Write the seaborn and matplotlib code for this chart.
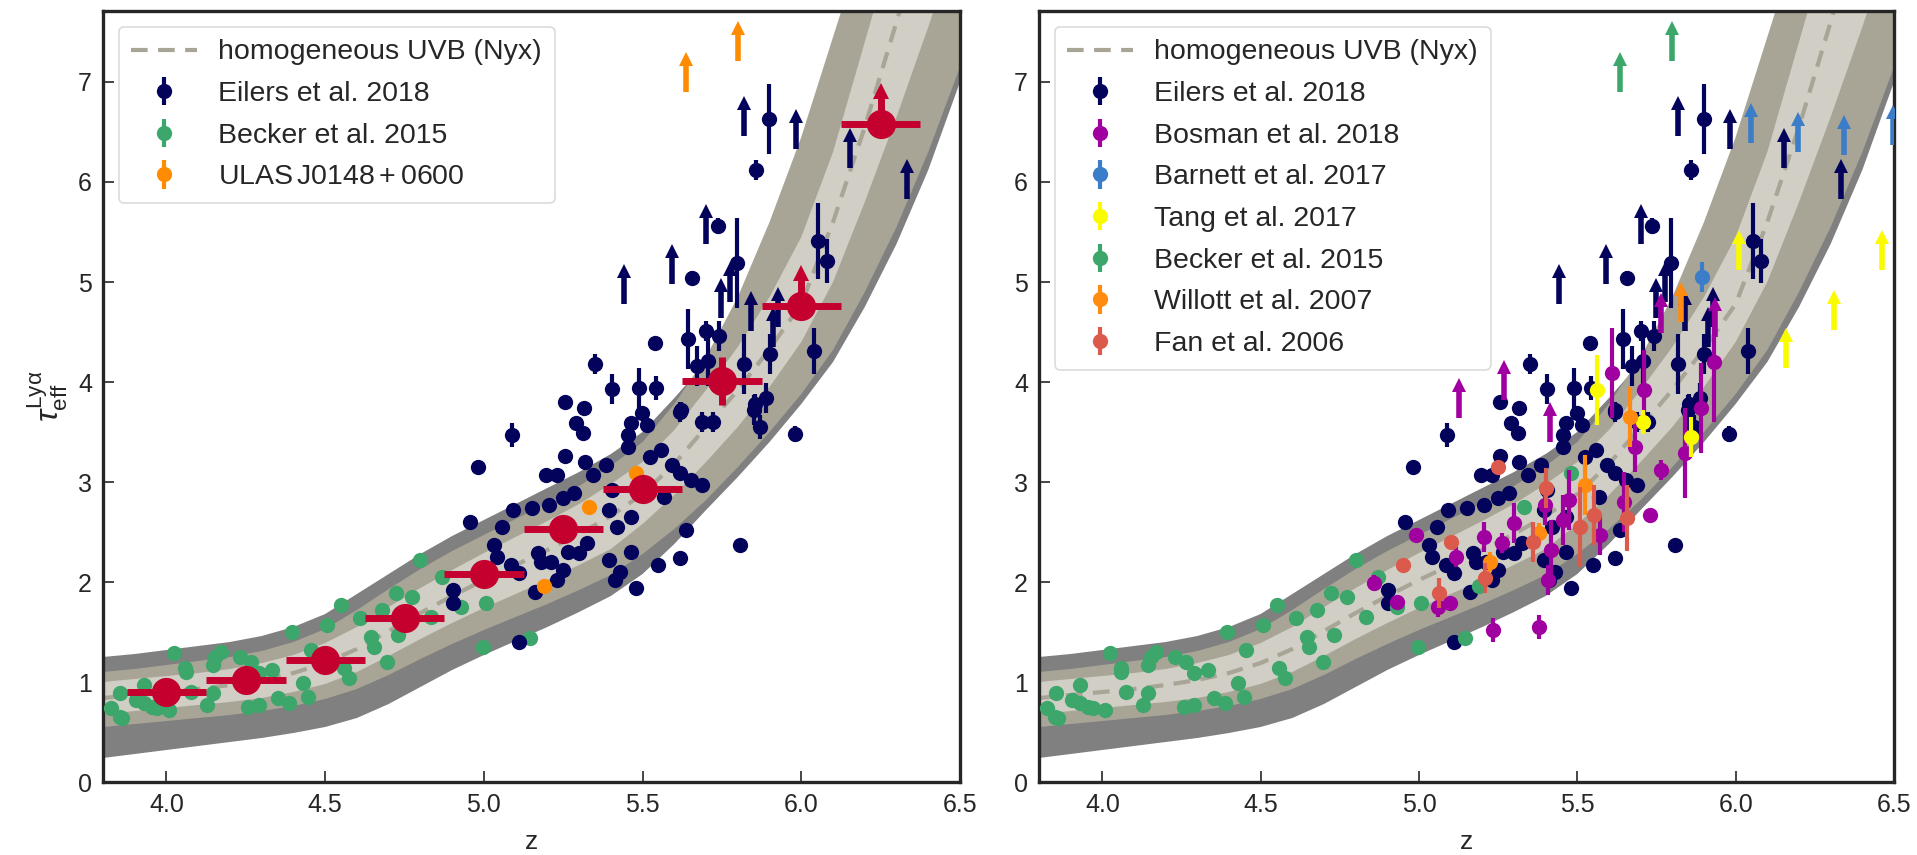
import numpy as np
import matplotlib
matplotlib.use("Agg")
import matplotlib.pyplot as plt
import seaborn as sns

# ---------------------------------------------------------------- model band
z_model = [3.8, 3.9, 4.0, 4.1, 4.2, 4.3, 4.4, 4.5, 4.6, 4.7, 4.8, 4.9, 5.0, 5.1,
           5.2, 5.3, 5.4, 5.5, 5.6, 5.7, 5.8, 5.9, 6.0, 6.1, 6.2, 6.3, 6.4, 6.5]
tau_model = [0.84, 0.87, 0.90, 0.93, 0.97, 1.02, 1.09, 1.19, 1.33, 1.51, 1.69, 1.86, 2.02, 2.17,
             2.32, 2.48, 2.66, 2.88, 3.18, 3.55, 3.92, 4.33, 4.78, 5.60, 6.55, 7.60, 8.70, 9.80]
light_lo = [0.68, 0.71, 0.74, 0.77, 0.80, 0.84, 0.90, 0.98, 1.10, 1.26, 1.43, 1.59, 1.74, 1.88,
            2.02, 2.17, 2.33, 2.58, 2.87, 3.20, 3.55, 3.95, 4.40, 5.00, 5.80, 6.65, 7.55, 8.50]
light_hi = [1.00, 1.03, 1.06, 1.09, 1.13, 1.19, 1.27, 1.39, 1.55, 1.75, 1.94, 2.12, 2.29, 2.45,
            2.61, 2.78, 2.98, 3.20, 3.52, 3.92, 4.35, 4.85, 5.45, 6.30, 7.40, 8.50, 9.50, 10.5]
mid_lo = [0.55, 0.58, 0.61, 0.64, 0.67, 0.71, 0.76, 0.83, 0.93, 1.07, 1.23, 1.38, 1.52, 1.65,
          1.78, 1.92, 2.07, 2.28, 2.53, 2.82, 3.15, 3.50, 3.88, 4.32, 4.90, 5.55, 6.30, 7.15]
mid_hi = [1.10, 1.13, 1.17, 1.21, 1.25, 1.31, 1.40, 1.53, 1.72, 1.93, 2.13, 2.31, 2.47, 2.63,
          2.79, 2.96, 3.16, 3.40, 3.78, 4.25, 4.85, 5.60, 6.45, 7.45, 8.45, 9.40, 10.3, 11.2]
dark_lo = [0.24, 0.28, 0.32, 0.36, 0.40, 0.44, 0.49, 0.55, 0.64, 0.78, 0.95, 1.12, 1.27, 1.41,
           1.55, 1.70, 1.86, 2.08, 2.38, 2.72, 3.05, 3.40, 3.78, 4.20, 4.75, 5.38, 6.12, 7.00]
dark_hi = [1.25, 1.28, 1.32, 1.36, 1.40, 1.46, 1.55, 1.68, 1.88, 2.08, 2.28, 2.46, 2.62, 2.78,
           2.94, 3.10, 3.28, 3.50, 3.84, 4.20, 4.75, 5.35, 6.00, 6.70, 7.50, 8.50, 9.40, 10.3]

# ---------------------------------------------------------------- Eilers et al. 2018
eilers_z = [5.899, 5.858, 5.736, 5.656, 5.797, 6.054, 6.080, 5.643, 5.700, 5.741, 5.540, 5.351,
            5.403, 5.490, 5.543, 5.818, 5.900, 6.040, 5.672, 5.707, 5.888, 5.853, 5.257, 5.316,
            5.620, 5.089, 5.290, 5.313, 5.464, 5.515, 5.498, 5.619, 5.688, 5.722, 5.851, 5.869,
            5.980, 4.981, 5.257, 5.196, 5.231, 5.317, 5.386, 5.343, 5.455, 5.455, 5.524, 5.558,
            5.593, 5.619, 5.653, 5.688, 5.403, 5.567, 5.283, 5.248, 5.205, 5.093, 5.153, 5.395,
            5.464, 5.420, 4.955, 5.058, 5.326, 5.300, 5.265, 5.033, 5.040, 5.170, 5.179, 5.213,
            5.084, 5.110, 5.248, 5.230, 5.162, 5.395, 5.429, 5.412, 5.464, 5.636, 5.550, 5.619,
            5.808, 5.480, 4.903, 4.903, 5.110]
eilers_tau = [6.63, 6.12, 5.56, 5.04, 5.19, 5.41, 5.21, 4.43, 4.51, 4.46, 4.39, 4.18,
              3.93, 3.94, 3.94, 4.18, 4.28, 4.31, 4.16, 4.21, 3.84, 3.78, 3.80, 3.74,
              3.72, 3.47, 3.59, 3.49, 3.59, 3.57, 3.69, 3.70, 3.60, 3.60, 3.72, 3.55,
              3.48, 3.15, 3.26, 3.07, 3.07, 3.20, 3.17, 3.07, 3.35, 3.47, 3.25, 3.32,
              3.17, 3.09, 3.02, 2.97, 2.92, 2.85, 2.89, 2.84, 2.77, 2.72, 2.74, 2.72,
              2.65, 2.55, 2.60, 2.55, 2.39, 2.29, 2.30, 2.37, 2.25, 2.29, 2.20, 2.20,
              2.17, 2.09, 2.12, 2.02, 1.90, 2.22, 2.10, 2.02, 2.30, 2.52, 2.17, 2.24,
              2.37, 1.94, 1.92, 1.79, 1.40]
eilers_err = [0.35, 0.10, 0.08, 0.07, 0.45, 0.38, 0.22, 0.30, 0.10, 0.15, 0.05, 0.10,
              0.15, 0.20, 0.12, 0.30, 0.20, 0.23, 0.20, 0.25, 0.15, 0.10, 0.05, 0.05,
              0.08, 0.12, 0.05, 0.05, 0.05, 0.05, 0.05, 0.10, 0.10, 0.10, 0.15, 0.12,
              0.08, 0.03, 0.03, 0.03, 0.03, 0.03, 0.03, 0.03, 0.04, 0.04, 0.04, 0.04,
              0.04, 0.04, 0.04, 0.04, 0.03, 0.03, 0.03, 0.03, 0.03, 0.03, 0.03, 0.03,
              0.03, 0.03, 0.03, 0.03, 0.03, 0.03, 0.03, 0.03, 0.03, 0.03, 0.03, 0.03,
              0.03, 0.03, 0.03, 0.03, 0.03, 0.03, 0.03, 0.03, 0.03, 0.03, 0.03, 0.03,
              0.03, 0.03, 0.03, 0.03, 0.03]
eilers_lim_z = [5.818, 5.983, 6.154, 6.333, 5.701, 5.592, 5.441, 5.840, 5.747, 5.776, 5.928, 5.912]
eilers_lim_tau = [6.46, 6.33, 6.14, 5.83, 5.38, 4.98, 4.78, 4.51, 4.64, 4.80, 4.55, 4.35]

# ---------------------------------------------------------------- Becker et al. 2015
becker_z = [3.852, 3.826, 3.855, 3.860, 3.929, 3.955, 4.007, 4.024, 4.059, 4.076, 4.128, 4.145,
            4.153, 4.171, 4.145, 4.231, 4.265, 4.291, 4.257, 4.291, 4.334, 4.352, 4.386, 4.395,
            4.429, 4.446, 4.455, 4.507, 4.550, 4.559, 4.576, 4.610, 4.653, 4.696, 4.645, 4.722,
            4.774, 4.730, 4.679, 4.800, 4.869, 4.834, 4.929, 5.007, 4.998, 5.145, 3.903, 3.930,
            3.970, 4.060]
becker_tau = [0.65, 0.74, 0.89, 0.64, 0.97, 0.75, 0.72, 1.29, 1.14, 0.90, 0.77, 0.89,
              1.25, 1.30, 1.17, 1.25, 1.20, 1.09, 0.75, 0.77, 1.12, 0.84, 0.79, 1.50,
              0.99, 0.85, 1.32, 1.57, 1.77, 1.14, 1.04, 1.64, 1.35, 1.20, 1.45, 1.89,
              1.85, 1.47, 1.72, 2.22, 2.05, 1.65, 1.75, 1.79, 1.35, 1.44, 0.82, 0.79,
              0.74, 1.10]
becker_err = [0.03] * len(becker_z)

# ULAS J0148+0600 (part of the Becker et al. 2015 sample)
ulas_z = [5.188, 5.331, 5.480]
ulas_tau = [1.96, 2.75, 3.09]
ulas_err = [0.03, 0.03, 0.03]
ulas_lim_z = [5.636, 5.800]
ulas_lim_tau = [6.90, 7.21]

# ---------------------------------------------------------------- binned Eilers et al. 2018
bin_z = [4.0, 4.25, 4.5, 4.75, 5.0, 5.25, 5.5, 5.75]
bin_tau = [0.90, 1.02, 1.22, 1.64, 2.08, 2.53, 2.93, 4.01]
bin_err = [0.03, 0.04, 0.04, 0.05, 0.06, 0.08, 0.10, 0.24]
bin_lim_z = [6.0, 6.25]
bin_lim_tau = [4.76, 6.58]
bin_halfwidth = 0.125

# ---------------------------------------------------------------- other samples
bosman_z = [5.610, 5.710, 5.890, 5.932, 5.683, 5.764, 5.840, 5.729, 5.648, 5.571, 5.474, 5.416,
            5.455, 5.407, 5.378, 5.233, 4.992, 4.857, 4.930, 5.098, 5.117, 5.204, 5.262, 5.300,
            5.397, 5.060]
bosman_tau = [4.09, 3.92, 3.74, 4.20, 3.35, 3.12, 3.29, 2.67, 2.80, 2.47, 2.82, 2.32,
              2.62, 2.02, 1.55, 1.52, 2.47, 1.99, 1.80, 1.79, 2.25, 2.45, 2.39, 2.59,
              2.77, 1.75]
bosman_err = [0.45, 0.40, 0.45, 0.60, 0.25, 0.10, 0.45, 0.05, 0.30, 0.20, 0.30, 0.30,
              0.25, 0.15, 0.12, 0.12, 0.05, 0.08, 0.05, 0.05, 0.10, 0.15, 0.10, 0.20,
              0.20, 0.10]
bosman_lim_z = [5.127, 5.268, 5.413, 5.764, 5.934]
bosman_lim_tau = [3.64, 3.82, 3.40, 4.49, 4.45]

barnett_z = [5.895]
barnett_tau = [5.05]
barnett_err = [0.15]
barnett_lim_z = [6.047, 6.198, 6.343, 6.497]
barnett_lim_tau = [6.39, 6.30, 6.27, 6.37]

tang_z = [5.561, 5.706, 5.860]
tang_tau = [3.92, 3.60, 3.45]
tang_err = [0.35, 0.12, 0.20]
tang_lim_z = [6.011, 6.462, 6.310, 6.159]
tang_lim_tau = [5.12, 5.12, 4.52, 4.14]

willott_z = [5.523, 5.378, 5.224, 5.667]
willott_tau = [2.97, 2.49, 2.20, 3.65]
willott_err = [0.30, 0.10, 0.10, 0.30]
willott_lim_z = [5.826]
willott_lim_tau = [4.60]

fan_z = [5.249, 5.401, 5.552, 5.658, 5.509, 5.359, 5.102, 4.950, 5.208, 5.063]
fan_tau = [3.15, 2.94, 2.67, 2.64, 2.55, 2.40, 2.40, 2.17, 2.04, 1.89]
fan_err = [0.05, 0.20, 0.30, 0.33, 0.40, 0.20, 0.05, 0.05, 0.15, 0.15]

# ---------------------------------------------------------------- style
sns.set_theme(style="ticks")
plt.rcParams["font.family"] = ["Liberation Sans", "DejaVu Sans"]
plt.rcParams["mathtext.fontset"] = "custom"
plt.rcParams["mathtext.rm"] = "Liberation Sans"
plt.rcParams["mathtext.it"] = "Liberation Sans:italic"
plt.rcParams["mathtext.sf"] = "Liberation Sans"

C_DARK, C_MID, C_LIGHT, C_LINE = "#808080", "#a8a596", "#d0cec5", "#a9a596"
C_EILERS, C_BECKER, C_ULAS, C_BIN = "#03035c", "#3da66b", "#ff8c00", "#c4002f"
C_BOSMAN, C_BARNETT, C_TANG = "#a0009f", "#3b7dc8", "#fbfb00"
C_WILLOTT, C_FAN = "#ff8c10", "#dc5a4c"

MS = 11          # marker size of individual measurements
ARROW = 0.33     # shaft length of lower-limit arrows (in tau)
FS = 18          # tick label size
FS_LEG = 20.5    # legend text size

fig = plt.figure(figsize=(19.17, 8.55), dpi=100)
ax_l = fig.add_axes([103 / 1917, 73 / 855, 857 / 1917, 771 / 855])
ax_r = fig.add_axes([1039 / 1917, 73 / 855, 855 / 1917, 771 / 855])


def draw_model(ax):
    ax.fill_between(z_model, dark_lo, dark_hi, color=C_DARK, lw=0, zorder=1)
    ax.fill_between(z_model, mid_lo, mid_hi, color=C_MID, lw=0, zorder=1.1)
    ax.fill_between(z_model, light_lo, light_hi, color=C_LIGHT, lw=0, zorder=1.2)
    sns.lineplot(x=z_model, y=tau_model, ax=ax, color=C_LINE, lw=3,
                 zorder=1.3, legend=False)
    line = ax.lines[-1]
    line.set_dashes((4, 2.5))
    line.set_label("homogeneous UVB (Nyx)")
    return line


def points(ax, z, tau, err, color, label, zorder):
    return ax.errorbar(z, tau, yerr=err, fmt="o", color=color, ms=MS, mew=0,
                       elinewidth=3, capsize=0, label=label, zorder=zorder)


def limits(ax, z, tau, color, zorder, lw=4, head=10, length=ARROW):
    """Lower limits: a vertical shaft from the value upwards, capped by an arrowhead."""
    tip = [t + length for t in tau]
    ax.vlines(z, tau, tip, colors=color, lw=lw, zorder=zorder)
    ax.plot(z, tip, ls="none", marker="^", ms=head, mew=0, color=color, zorder=zorder)


def style_axes(ax):
    ax.set_xlim(3.8, 6.5)
    ax.set_ylim(0, 7.71)
    ax.set_xticks([4.0, 4.5, 5.0, 5.5, 6.0, 6.5])
    ax.set_xticklabels(["4.0", "4.5", "5.0", "5.5", "6.0", "6.5"])
    ax.set_yticks(range(0, 8))
    ax.tick_params(direction="in", length=8, width=1.2, labelsize=FS, colors=".15", pad=8)
    for sp in ax.spines.values():
        sp.set_linewidth(2.4)
        sp.set_color(".15")
    ax.set_xlabel("z", fontsize=FS + 1, labelpad=9)


def add_legend(ax, handles):
    leg = ax.legend(handles=handles, loc="upper left", fontsize=FS_LEG, frameon=True,
                    fancybox=True, framealpha=0.85, edgecolor="#d5d5d5",
                    handlelength=2.3, labelspacing=0.55, borderaxespad=0.55,
                    borderpad=0.45, handletextpad=0.75)
    leg.get_frame().set_linewidth(1.2)
    leg.set_zorder(10)


# ---------------------------------------------------------------- left panel
ax = ax_l
h_model = draw_model(ax)
h_becker = points(ax, becker_z, becker_tau, becker_err, C_BECKER, "Becker et al. 2015", 3)
h_eilers = points(ax, eilers_z, eilers_tau, eilers_err, C_EILERS, "Eilers et al. 2018", 4)
limits(ax, eilers_lim_z, eilers_lim_tau, C_EILERS, 4)
h_ulas = points(ax, ulas_z, ulas_tau, ulas_err, C_ULAS, r"$\mathrm{ULAS\,J0148+0600}$", 5)
limits(ax, ulas_lim_z, ulas_lim_tau, C_ULAS, 5)
ax.errorbar(bin_z, bin_tau, xerr=bin_halfwidth, yerr=bin_err, fmt="o", color=C_BIN,
            ms=21, mew=0, elinewidth=5, capsize=0, zorder=6)
ax.errorbar(bin_lim_z, bin_lim_tau, xerr=bin_halfwidth, fmt="o", color=C_BIN,
            ms=21, mew=0, elinewidth=5, capsize=0, zorder=6)
limits(ax, bin_lim_z, bin_lim_tau, C_BIN, 6, lw=5, head=12, length=0.33)
style_axes(ax)
ax.set_ylabel(r"$\tau_{\rm eff}^{\rm Ly\alpha}$", fontsize=FS + 5, labelpad=6)
add_legend(ax, [h_model, h_eilers, h_becker, h_ulas])

# ---------------------------------------------------------------- right panel
ax = ax_r
h_model = draw_model(ax)
h_eilers = points(ax, eilers_z, eilers_tau, eilers_err, C_EILERS, "Eilers et al. 2018", 3)
limits(ax, eilers_lim_z, eilers_lim_tau, C_EILERS, 3)
h_becker = points(ax, becker_z + ulas_z, becker_tau + ulas_tau, becker_err + ulas_err,
                  C_BECKER, "Becker et al. 2015", 3.5)
limits(ax, ulas_lim_z, ulas_lim_tau, C_BECKER, 3.5)
h_bosman = points(ax, bosman_z, bosman_tau, bosman_err, C_BOSMAN, "Bosman et al. 2018", 4)
limits(ax, bosman_lim_z, bosman_lim_tau, C_BOSMAN, 4)
h_barnett = points(ax, barnett_z, barnett_tau, barnett_err, C_BARNETT, "Barnett et al. 2017", 4.2)
limits(ax, barnett_lim_z, barnett_lim_tau, C_BARNETT, 4.2)
h_tang = points(ax, tang_z, tang_tau, tang_err, C_TANG, "Tang et al. 2017", 4.4)
limits(ax, tang_lim_z, tang_lim_tau, C_TANG, 4.4)
h_willott = points(ax, willott_z, willott_tau, willott_err, C_WILLOTT, "Willott et al. 2007", 4.6)
limits(ax, willott_lim_z, willott_lim_tau, C_WILLOTT, 4.6)
h_fan = points(ax, fan_z, fan_tau, fan_err, C_FAN, "Fan et al. 2006", 4.8)
style_axes(ax)
ax.set_ylabel("")
add_legend(ax, [h_model, h_eilers, h_bosman, h_barnett, h_tang, h_becker, h_willott, h_fan])

fig.savefig("out.png", dpi=100)
